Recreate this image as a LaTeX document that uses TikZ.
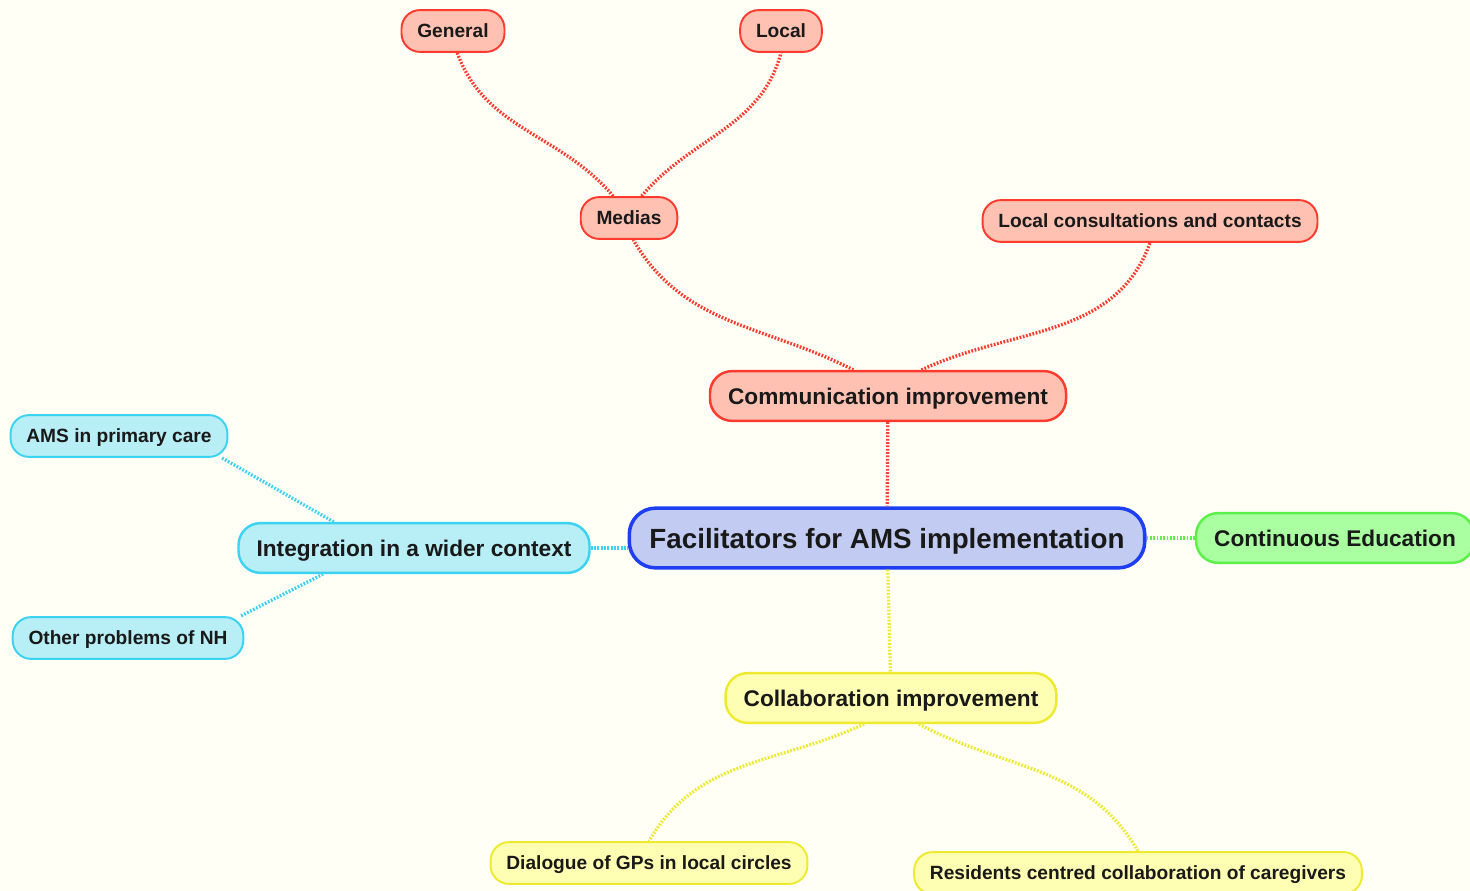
\documentclass[tikz,border=0pt]{standalone}
\usepackage{fontspec}
\setmainfont{Liberation Sans}

\definecolor{bgcream}{HTML}{FFFFF6}
\definecolor{redline}{HTML}{FF3B30}
\definecolor{redfill}{HTML}{FFC2B2}
\definecolor{blueline}{HTML}{1E3EF2}
\definecolor{bluefill}{HTML}{C2CBF2}
\definecolor{cyanline}{HTML}{3CD2F2}
\definecolor{cyanfill}{HTML}{B8EEF5}
\definecolor{greenline}{HTML}{5CF04A}
\definecolor{greenfill}{HTML}{AAFFA0}
\definecolor{yelline}{HTML}{EEEA30}
\definecolor{yelfill}{HTML}{FFFFB4}

\begin{document}
\begin{tikzpicture}[x=0.02cm, y=-0.02cm,
  rootbox/.style={draw=blueline, fill=bluefill, line width=2pt, rounded corners=15pt,
    minimum height=34pt, inner xsep=11.5pt, text height=11.4pt, text depth=0pt,
    text=black!90, font=\fontsize{15.8}{18}\selectfont\bfseries},
  topic/.style={line width=1.4pt, rounded corners=12.5pt, minimum height=28.3pt,
    inner xsep=10.3pt, text height=9.3pt, text depth=0pt,
    text=black!90, font=\fontsize{12.9}{15}\selectfont\bfseries},
  leaf/.style={line width=1.1pt, rounded corners=10.5pt, minimum height=23.8pt,
    inner xsep=9pt, text height=7.8pt, text depth=0pt,
    text=black!90, font=\fontsize{10.9}{13}\selectfont\bfseries},
  redbox/.style={draw=redline, fill=redfill},
  cyanbox/.style={draw=cyanline, fill=cyanfill},
  greenbox/.style={draw=greenline, fill=greenfill},
  yelbox/.style={draw=yelline, fill=yelfill},
  link/.style={line width=1.9pt, dash pattern=on 1pt off 0.9pt}]

  \useasboundingbox (0,0) rectangle (1470,891);
  \fill[bgcream] (0,0) rectangle (1470,891);

  \node[rootbox] (root) at (887,538) {Facilitators for AMS implementation};

  \node[topic, redbox] (comm) at (888,396) {Communication improvement};
  \node[leaf, redbox] (medias) at (629,218) {Medias};
  \node[leaf, redbox] (gen) at (453,31) {General};
  \node[leaf, redbox] (loc) at (781,31) {Local};
  \node[leaf, redbox] (cons) at (1150,221) {Local consultations and contacts};

  \node[topic, cyanbox] (integ) at (414,548) {Integration in a wider context};
  \node[leaf, cyanbox] (ams) at (119,436) {AMS in primary care};
  \node[leaf, cyanbox] (nh) at (128,638) {Other problems of NH};

  \node[topic, greenbox] (cont) at (1335,538) {Continuous Education};

  \node[topic, yelbox] (collab) at (891,698) {Collaboration improvement};
  \node[leaf, yelbox] (dial) at (649,863) {Dialogue of GPs in local circles};
  \node[leaf, yelbox] (res) at (1138,873) {Residents centred collaboration of caregivers};

  \draw[link, redline] (comm) -- (root);
  \draw[link, yelline] (root) -- (collab);
  \draw[link, greenline] (root) -- (cont);
  \draw[link, cyanline] (integ.east) -- (integ.east -| root.west);

  \draw[link, redline] (comm.143) to[out=153, in=-60] (medias.281);
  \draw[link, redline] (comm.38) to[out=25, in=-110] (cons.south);
  \draw[link, redline] (medias.126) to[out=130, in=-70] (gen.-79);
  \draw[link, redline] (medias.60) to[out=50, in=-105] (loc.south);

  \draw[link, cyanline] (integ.162) -- (ams.-12);
  \draw[link, cyanline] (integ.196) -- (nh.11);

  \draw[link, yelline] (collab.224) to[out=-155, in=60] (dial.north);
  \draw[link, yelline] (collab.317) to[out=-28, in=120] (res.north);
\end{tikzpicture}
\end{document}
